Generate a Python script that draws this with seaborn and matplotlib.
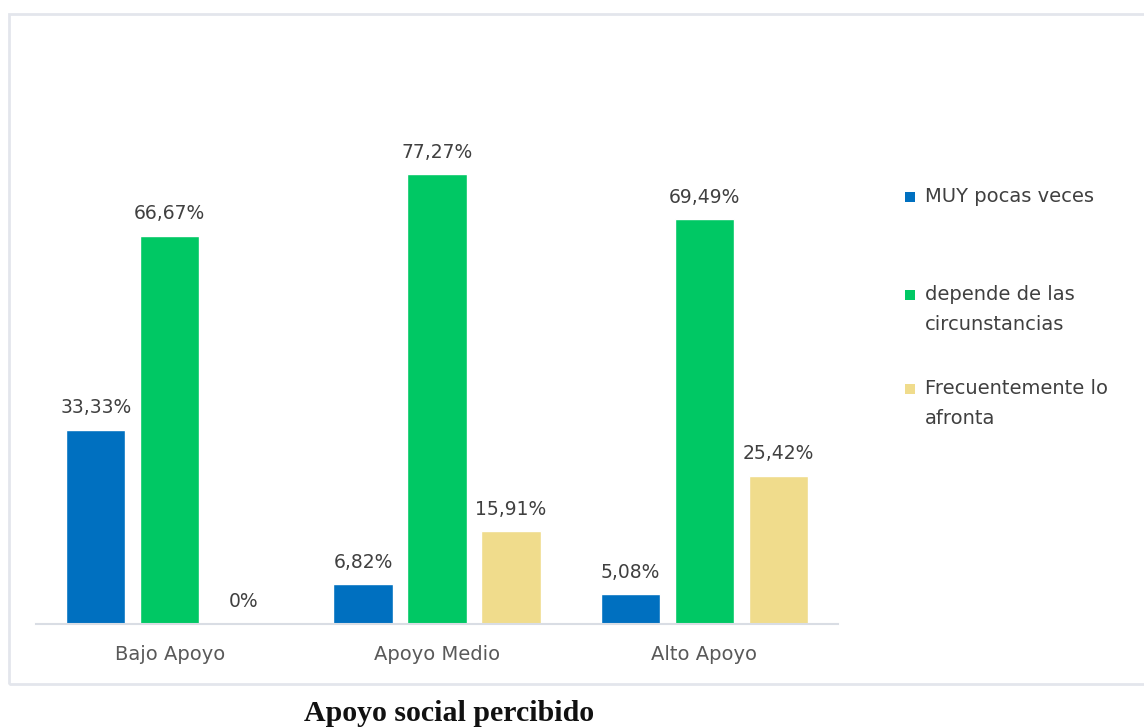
import matplotlib
matplotlib.use("Agg")
import matplotlib.pyplot as plt
from matplotlib.patches import Rectangle
import seaborn as sns
import pandas as pd

# Data: percentage of responses by level of perceived social support
categories = ["Bajo Apoyo", "Apoyo Medio", "Alto Apoyo"]
series = ["MUY pocas veces", "depende de las\ncircunstancias", "Frecuentemente lo\nafronta"]
muy_pocas = [33.33, 6.82, 5.08]
depende = [66.67, 77.27, 69.49]
frecuente = [0.0, 15.91, 25.42]
colors = ["#0070C0", "#00C864", "#F0DC8C"]
title = "Apoyo social percibido"

rows = []
for name, vals in zip(series, [muy_pocas, depende, frecuente]):
    for cat, v in zip(categories, vals):
        rows.append({"categoria": cat, "serie": name, "valor": v})
df = pd.DataFrame(rows)

sns.set_theme(style="white")
plt.rcParams["font.family"] = ["DejaVu Sans"]

W, H = 1144, 727
fig = plt.figure(figsize=(W / 100, H / 100), dpi=100)
ax = fig.add_axes([0.0315, 0.1417, 0.701, 0.7207])

sns.barplot(data=df, x="categoria", y="valor", hue="serie",
            order=categories, hue_order=series, palette=colors,
            width=0.83, gap=0.2, saturation=1, errorbar=None,
            legend=False, ax=ax)

def fmt(v):
    if v == 0:
        return "0%"
    return f"{v:.2f}".replace(".", ",") + "%"

for cont, vals in zip(ax.containers, [muy_pocas, depende, frecuente]):
    ax.bar_label(cont, labels=[fmt(v) for v in vals], padding=9,
                 fontsize=13.5, color="#404040")

ax.set_ylim(0, 90)
ax.set_xlim(-0.5, 2.5)
ax.set_xlabel("")
ax.set_ylabel("")
ax.set_yticks([])
for s in ["top", "left", "right"]:
    ax.spines[s].set_visible(False)
ax.spines["bottom"].set_color("#D9DDE4")
ax.spines["bottom"].set_linewidth(1.5)
ax.tick_params(axis="x", length=0, pad=15, labelsize=14, labelcolor="#595959")

# Legend to the right of the bars: marker beside the first line of each label
legend_tops = [197, 295, 389]   # pixel centre of each entry's first line
line_gap = 30
for c, name, yc in zip(colors, series, legend_tops):
    fig.patches.append(Rectangle((905 / W, 1 - (yc + 5) / H), 10 / W, 10 / H,
                                 transform=fig.transFigure,
                                 facecolor=c, edgecolor="none"))
    for i, line in enumerate(name.split("\n")):
        fig.text(925 / W, 1 - (yc + i * line_gap) / H, line,
                 ha="left", va="center", fontsize=14, color="#404040")

# Chart frame
fig.patches.append(Rectangle((9 / W, 1 - 684 / H), 1.1, 670 / H,
                             transform=fig.transFigure, fill=False,
                             edgecolor="#E3E6EC", linewidth=2))

fig.text(449 / W, 1 - 700 / H, title, ha="center", va="top",
         fontsize=21.5, fontweight="bold", family=["Liberation Serif"], color="#111111")

fig.savefig("out.png", dpi=100)
